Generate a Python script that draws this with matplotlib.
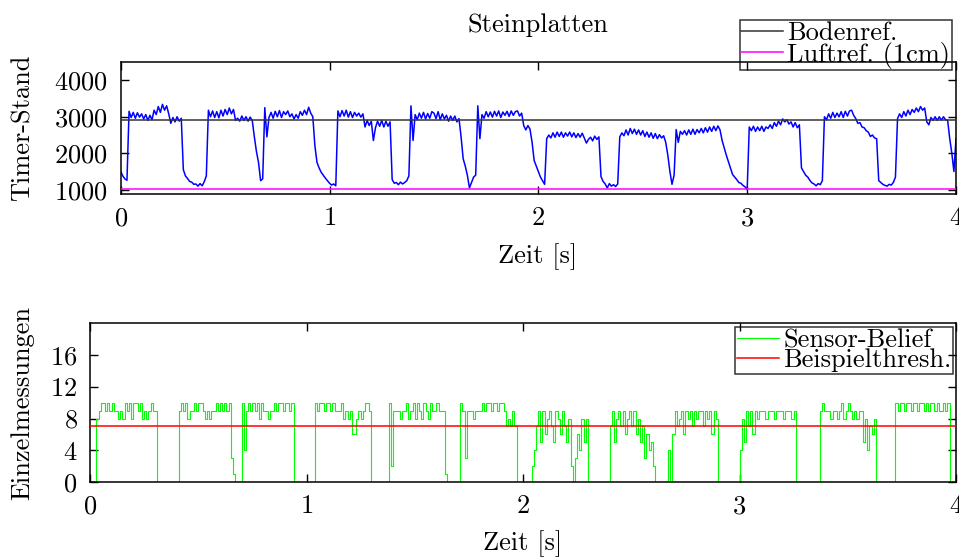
import numpy as np
import matplotlib
matplotlib.use('Agg')
import matplotlib.pyplot as plt

# Computer-Modern look (cmr10 ships with matplotlib)
plt.rcParams['font.family'] = 'cmr10'
plt.rcParams['axes.formatter.use_mathtext'] = True
plt.rcParams['font.size'] = 19

# Timer-Stand, every 10 ms (0 .. 4 s)
timer_stand = [
    # 0.0 - 0.4 s
    1500, 1380, 1300, 1260, 3150, 2980, 3120, 2960, 3110, 2990,
    3080, 2940, 3060, 2900, 3040, 2920, 3180, 3060, 3280, 3120,
    3340, 3180, 3300, 3080, 2820, 2980, 2860, 3000, 2880, 2960,
    1550, 1380, 1310, 1230, 1210, 1150, 1160, 1100, 1170, 1110,
    # 0.4 - 0.8 s
    1220, 1380, 3180, 3000, 3160, 2980, 3140, 2970, 3180, 3020,
    3200, 3060, 3240, 3080, 3200, 2900, 2960, 2880, 3020, 2900,
    3000, 2880, 2990, 2900, 2450, 2050, 1750, 1250, 1300, 3250,
    2450, 2980, 3120, 2960, 3150, 3000, 3170, 2980, 3140, 3060,
    # 0.8 - 1.2 s
    3160, 3000, 3080, 2940, 3060, 2960, 3140, 3040, 3180, 3060,
    3260, 3100, 3000, 2200, 1750, 1600, 1480, 1400, 1320, 1250,
    1180, 1130, 1160, 1110, 3160, 3000, 3170, 3020, 3180, 2990,
    3140, 2980, 3120, 3020, 3100, 2990, 3080, 2720, 2900, 2760,
    # 1.2 - 1.6 s
    2880, 2350, 2700, 2880, 2740, 2900, 2720, 2880, 2740, 2860,
    1280, 1180, 1200, 1140, 1210, 1160, 1200, 1250, 1380, 3300,
    2350, 3060, 2920, 3100, 2960, 3120, 2940, 3090, 2960, 3140,
    3100, 2950, 3140, 2920, 3080, 2940, 3040, 2880, 3020, 2900,
    # 1.6 - 2.0 s
    3020, 2860, 2950, 2450, 1850, 1650, 1400, 1050, 1200, 1350,
    1400, 3300, 2400, 3060, 2960, 3140, 3000, 3130, 2990, 3150,
    3020, 3160, 2980, 3130, 3040, 3150, 3010, 3160, 3040, 3140,
    3160, 3020, 3100, 2760, 2640, 2760, 2660, 2300, 1800, 1650,
    # 2.0 - 2.4 s
    1500, 1350, 1250, 1150, 2400, 2500, 2420, 2560, 2440, 2580,
    2460, 2580, 2440, 2560, 2470, 2580, 2450, 2560, 2430, 2540,
    2440, 2550, 2420, 2280, 2380, 2440, 2340, 2470, 2380, 2450,
    1360, 1230, 1160, 1050, 1170, 1100, 1140, 1090, 1160, 2450,
    # 2.4 - 2.8 s
    2560, 2480, 2640, 2500, 2680, 2540, 2660, 2520, 2640, 2500,
    2620, 2460, 2580, 2440, 2560, 2410, 2540, 2400, 2510, 2420,
    2480, 2300, 1950, 1500, 1150, 1400, 2650, 2300, 2600, 2520,
    2620, 2500, 2640, 2520, 2660, 2520, 2650, 2560, 2680, 2560,
    # 2.8 - 3.2 s
    2700, 2580, 2720, 2600, 2740, 2620, 2750, 2640, 2350, 2150,
    1950, 1770, 1600, 1420, 1350, 1280, 1200, 1180, 1120, 1080,
    1000, 2720, 2620, 2740, 2600, 2720, 2620, 2740, 2600, 2720,
    2680, 2780, 2680, 2840, 2740, 2880, 2780, 2940, 2860, 2920,
    # 3.2 - 3.6 s
    2800, 2860, 2720, 2840, 2700, 2780, 1600, 1500, 1400, 1350,
    1260, 1190, 1160, 1110, 1170, 1140, 1250, 3000, 2920, 3080,
    2960, 3120, 2980, 3100, 3000, 3140, 2980, 3150, 3020, 3160,
    3180, 3040, 2950, 2820, 2840, 2720, 2700, 2620, 2580, 2460,
    # 3.6 - 4.0 s
    2500, 2420, 2400, 1250, 1200, 1150, 1120, 1100, 1150, 1130,
    1200, 1350, 2950, 3080, 2980, 3140, 3020, 3180, 3060, 3200,
    3120, 3240, 3140, 3280, 3180, 3240, 2860, 2780, 2980, 2900,
    3000, 2900, 3000, 2910, 3000, 2920, 2900, 2400, 2000, 1500,
    2400,
]

# Einzelmessungen (sensor belief), same 10 ms grid
sensor_belief = [
    0, 0, 0, 8, 9, 10, 10, 9, 10, 9,
    10, 9, 9, 8, 9, 8, 10, 9, 10, 8,
    10, 10, 9, 10, 8, 9, 8, 9, 10, 9,
    9, 0, 0, 0, 0, 0, 0, 0, 0, 0,
    0, 9, 10, 9, 10, 8, 9, 9, 10, 9,
    10, 10, 9, 8, 9, 8, 9, 9, 10, 9,
    10, 9, 10, 9, 10, 3, 1, 0, 0, 0,
    10, 4, 9, 10, 9, 10, 9, 10, 8, 10,
    9, 9, 8, 9, 9, 10, 9, 10, 10, 9,
    10, 10, 9, 10, 0, 0, 0, 0, 0, 0,
    0, 0, 0, 0, 10, 9, 10, 10, 9, 10,
    10, 9, 10, 9, 9, 9, 10, 8, 9, 8,
    9, 6, 6, 8, 9, 8, 9, 10, 10, 9,
    0, 0, 0, 0, 0, 0, 0, 0, 10, 2,
    9, 9, 9, 8, 9, 9, 10, 8, 9, 10,
    8, 10, 9, 8, 10, 9, 8, 10, 9, 9,
    10, 9, 9, 9, 1, 0, 0, 0, 0, 0,
    0, 10, 9, 3, 9, 9, 9, 8, 9, 9,
    9, 10, 9, 10, 10, 9, 10, 10, 9, 10,
    10, 9, 7, 8, 7, 9, 7, 0, 0, 0,
    0, 0, 0, 0, 2, 4, 7, 9, 5, 9,
    6, 8, 9, 7, 5, 9, 8, 6, 9, 7,
    5, 8, 2, 0, 3, 6, 4, 8, 5, 8,
    0, 0, 0, 0, 0, 0, 0, 0, 0, 0,
    7, 9, 5, 8, 9, 7, 9, 6, 8, 9,
    7, 9, 6, 8, 5, 7, 3, 6, 4, 5,
    2, 0, 0, 0, 0, 0, 0, 4, 0, 6,
    9, 7, 8, 9, 6, 9, 8, 9, 7, 9,
    8, 9, 9, 7, 9, 8, 9, 6, 9, 8,
    0, 0, 0, 0, 0, 0, 0, 0, 0, 0,
    4, 8, 5, 9, 7, 9, 6, 9, 8, 9,
    9, 9, 8, 9, 9, 9, 8, 9, 9, 9,
    8, 9, 9, 9, 8, 9, 0, 0, 0, 0,
    0, 0, 0, 0, 0, 0, 0, 9, 10, 9,
    9, 9, 8, 9, 9, 8, 9, 10, 8, 9,
    10, 9, 8, 9, 8, 9, 9, 5, 8, 4,
    7, 6, 8, 0, 0, 0, 0, 0, 0, 0,
    0, 0, 10, 9, 10, 10, 9, 10, 10, 9,
    10, 10, 9, 10, 10, 9, 10, 9, 10, 10,
    9, 10, 9, 9, 10, 9, 10, 0, 0, 0,
    5,
]

bodenref = 2900
luftref = 1030
threshold = 7

t_top = np.linspace(0, 4, len(timer_stand))
t_bot = np.linspace(0, 4, len(sensor_belief))

W, H = 959, 558
fig = plt.figure(figsize=(W / 100, H / 100), dpi=100)

ax1 = fig.add_axes([120.7 / W, 1 - 194 / H, (956 - 120.7) / W, (194 - 62) / H])
ax2 = fig.add_axes([90 / W, 1 - 482 / H, (956 - 90) / W, (482 - 323.3) / H])

# top panel
ax1.plot(t_top, timer_stand, color='#0000ff', lw=1.1, zorder=2)
ax1.axhline(bodenref, color='#333333', lw=1.1, label='Bodenref.', zorder=3)
ax1.axhline(luftref, color='#ff00ff', lw=1.1, label='Luftref. (1cm)', zorder=3)
ax1.set_xlim(0, 4)
ax1.set_ylim(885, 4500)
ax1.set_yticks([1000, 2000, 3000, 4000])
ax1.set_xticks([0, 1, 2, 3, 4])

# bottom panel
ax2.plot(t_bot, sensor_belief, color='#00ff00', lw=0.8, drawstyle='steps-post',
         label='Sensor-Belief', zorder=2)
ax2.axhline(threshold, color='#ff0000', lw=1.1, label='Beispielthresh.', zorder=3)
ax2.set_xlim(0, 4)
ax2.set_ylim(0, 20)
ax2.set_yticks([0, 4, 8, 12, 16])
ax2.set_xticks([0, 1, 2, 3, 4])

for ax in (ax1, ax2):
    ax.tick_params(direction='in', length=5.5, width=1, top=True, right=True,
                   pad=9, labelsize=19)
    for sp in ax.spines.values():
        sp.set_linewidth(1.1)

leg_kw = dict(loc='upper right', bbox_transform=fig.transFigure, borderaxespad=0,
              fontsize=19, handlelength=1.6, handletextpad=0.15, labelspacing=-0.14,
              borderpad=0.06, fancybox=False, facecolor='none', edgecolor='black')
l1 = ax1.legend(bbox_to_anchor=(952 / W, 1 - 20 / H), **leg_kw)
l2 = ax2.legend(bbox_to_anchor=(953 / W, 1 - 327 / H), **leg_kw)
for l in (l1, l2):
    l.get_frame().set_linewidth(1.1)

fig.text(538 / W, 1 - 32 / H, 'Steinplatten', ha='center', va='baseline')
fig.text(538 / W, 1 - 263 / H, 'Zeit [s]', ha='center', va='baseline')
fig.text(523 / W, 1 - 550 / H, 'Zeit [s]', ha='center', va='baseline')
fig.text(23 / W, 1 - 128 / H, 'Timer-Stand', rotation=90, ha='center', va='center')
fig.text(22 / W, 1 - 403 / H, 'Einzelmessungen', rotation=90, ha='center', va='center')

fig.savefig('out.png', dpi=100)
